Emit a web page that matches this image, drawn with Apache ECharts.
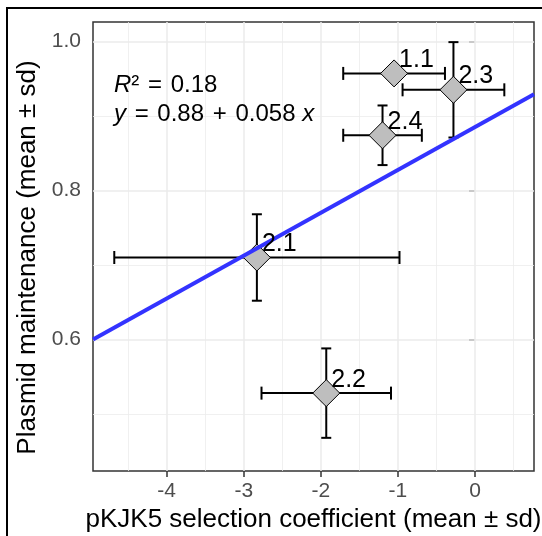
<!DOCTYPE html>
<html>
<head>
<meta charset="utf-8">
<script src="https://cdn.jsdelivr.net/npm/echarts@6/dist/echarts.min.js"></script>
<style>
  html, body { margin: 0; padding: 0; background: #fff; }
  #chart { width: 542px; height: 536px; }
</style>
</head>
<body>
<div id="chart"></div>
<script>
// valores
const etiquetas = ['1.1', '2.1', '2.2', '2.3', '2.4']
const xMedia = [-1.05, -2.83, -1.93, -0.28, -1.20]
const xSd = [0.66, 1.85, 0.84, 0.66, 0.51]
const yMedia = [0.957, 0.710, 0.528, 0.935, 0.874]
const ySd = [0.004, 0.058, 0.060, 0.064, 0.040]

// recta de regresion
const intercepto = 0.885
const pendiente = 0.0575

const xTicks = [-4, -3, -2, -1, 0]
const xMenores = [-4.5, -3.5, -2.5, -1.5, -0.5, 0.5]
const yTicks = [0.6, 0.8, 1.0]
const yMenores = [0.5, 0.7, 0.9]

const xMin = -4.956, xMax = 0.765
const yMin = 0.4235, yMax = 1.026

const fuente = 'Liberation Sans'

let puntos = etiquetas.map((e, i) => [xMedia[i], yMedia[i], xSd[i], ySd[i], e])
let recta = [[xMin, intercepto + pendiente * xMin], [xMax, intercepto + pendiente * xMax]]

let lineasGrid = []
xTicks.forEach(v => lineasGrid.push({ xAxis: v, lineStyle: { type: 'solid', width: 1.5, color: '#ebebeb' } }))
xMenores.forEach(v => lineasGrid.push({ xAxis: v, lineStyle: { type: 'solid', width: 0.8, color: '#ececec' } }))
yTicks.forEach(v => lineasGrid.push({ yAxis: v, lineStyle: { type: 'solid', width: 1.5, color: '#ebebeb' } }))
yMenores.forEach(v => lineasGrid.push({ yAxis: v, lineStyle: { type: 'solid', width: 0.8, color: '#ececec' } }))

function barrasError(params, api) {
    let x = api.value(0), y = api.value(1), sx = api.value(2), sy = api.value(3)
    let izq = api.coord([x - sx, y])
    let der = api.coord([x + sx, y])
    let arr = api.coord([x, y + sy])
    let aba = api.coord([x, y - sy])
    let estilo = { stroke: '#000', lineWidth: 2 }
    let tapaH = 6.5, tapaV = 5
    return {
        type: 'group',
        children: [
            { type: 'line', shape: { x1: izq[0], y1: izq[1], x2: der[0], y2: der[1] }, style: estilo },
            { type: 'line', shape: { x1: izq[0], y1: izq[1] - tapaH, x2: izq[0], y2: izq[1] + tapaH }, style: estilo },
            { type: 'line', shape: { x1: der[0], y1: der[1] - tapaH, x2: der[0], y2: der[1] + tapaH }, style: estilo },
            { type: 'line', shape: { x1: arr[0], y1: arr[1], x2: aba[0], y2: aba[1] }, style: estilo },
            { type: 'line', shape: { x1: arr[0] - tapaV, y1: arr[1], x2: arr[0] + tapaV, y2: arr[1] }, style: estilo },
            { type: 'line', shape: { x1: aba[0] - tapaV, y1: aba[1], x2: aba[0] + tapaV, y2: aba[1] }, style: estilo }
        ]
    }
}

function textoPunto(params, api) {
    let c = api.coord([api.value(0), api.value(1)])
    return {
        type: 'text',
        style: {
            text: etiquetas[params.dataIndex],
            x: c[0] + 5,
            y: c[1] - 1,
            align: 'left',
            verticalAlign: 'bottom',
            font: '25px "' + fuente + '"',
            fill: '#000'
        }
    }
}

let estiloAnot = {
    i: { fontSize: 24, fontStyle: 'italic', fontFamily: fuente, fill: '#000' },
    n: { fontSize: 24, fontFamily: fuente, fill: '#000' },
    op: { fontSize: 24, fontFamily: fuente, fill: '#000', padding: [0, 2] }
}

let chart = echarts.init(document.getElementById('chart'), null, { renderer: 'canvas' })

let option = {
    animation: false,
    textStyle: { fontFamily: fuente },
    grid: {
        left: 93, right: 8, top: 22, bottom: 65,
        show: true,
        borderColor: '#333333',
        borderWidth: 1.5,
        backgroundColor: '#fff',
        containLabel: false,
        outerBoundsMode: 'none'
    },
    xAxis: {
        type: 'value',
        min: xMin,
        max: xMax,
        name: 'pKJK5 selection coefficient (mean ± sd)',
        nameLocation: 'middle',
        nameGap: 28,
        nameTextStyle: { fontSize: 26, color: '#000', fontFamily: fuente },
        axisLine: { show: false },
        axisTick: { show: true, length: 6, customValues: xTicks, lineStyle: { color: '#333333', width: 1.5 } },
        axisLabel: { customValues: xTicks, fontSize: 21, color: '#4d4d4d', margin: 10, fontFamily: fuente },
        splitLine: { show: false }
    },
    yAxis: {
        type: 'value',
        min: yMin,
        max: yMax,
        name: 'Plasmid maintenance (mean ± sd)',
        nameLocation: 'middle',
        nameGap: 50,
        nameTextStyle: { fontSize: 26, color: '#000', fontFamily: fuente, padding: [0, 22, 0, 0] },
        axisLine: { show: false },
        axisTick: { show: true, length: 6, customValues: yTicks, lineStyle: { color: '#333333', width: 1.5 } },
        axisLabel: { customValues: yTicks, fontSize: 21, color: '#4d4d4d', margin: 12, fontFamily: fuente,
            formatter: v => v.toFixed(1) },
        splitLine: { show: false }
    },
    graphic: [
        {
            type: 'rect',
            shape: { x: 7, y: 8, width: 700, height: 700 },
            style: { fill: 'none', stroke: '#000', lineWidth: 2 },
            z: 100
        },
        {
            type: 'text',
            left: 114, top: 73,
            style: { text: '{i|R}{n|²}{op| = }{n|0.18}', rich: estiloAnot },
            z: 100
        },
        {
            type: 'text',
            left: 114, top: 102,
            style: { text: '{i|y}{op| = }{n|0.88}{op| + }{n|0.058 }{i|x}', rich: estiloAnot },
            z: 100
        }
    ],
    series: [
        {
            name: 'grid',
            type: 'line',
            data: [],
            z: 1,
            markLine: {
                silent: true,
                z: 1,
                symbol: ['none', 'none'],
                label: { show: false },
                data: lineasGrid
            }
        },
        {
            name: 'error',
            type: 'custom',
            renderItem: barrasError,
            data: puntos,
            encode: { x: 0, y: 1 },
            z: 3
        },
        {
            name: 'medias',
            type: 'scatter',
            data: puntos,
            encode: { x: 0, y: 1 },
            symbol: 'diamond',
            symbolSize: 27,
            itemStyle: { color: '#bebebe', borderColor: '#000', borderWidth: 1, opacity: 1 },
            z: 4
        },
        {
            name: 'ajuste',
            type: 'line',
            data: recta,
            showSymbol: false,
            lineStyle: { color: '#3333ff', width: 4 },
            z: 5
        },
        {
            name: 'etiquetas',
            type: 'custom',
            renderItem: textoPunto,
            data: puntos,
            encode: { x: 0, y: 1 },
            z: 6
        }
    ]
}

chart.setOption(option)
window.addEventListener('resize', chart.resize)
</script>
</body>
</html>
